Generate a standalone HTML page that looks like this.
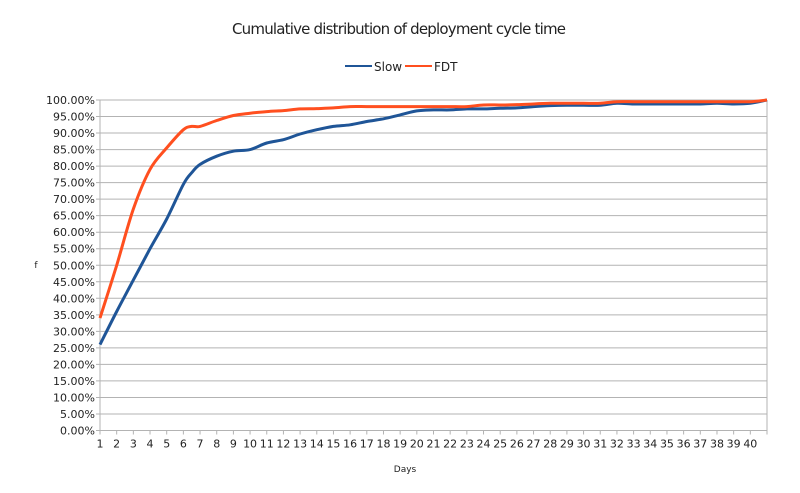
<!DOCTYPE html>
<html><head><meta charset="utf-8"><style>
body{margin:0;background:#fff}
svg{display:block;font-family:"DejaVu Sans","Liberation Sans",sans-serif}
</style></head><body>
<svg id="chart" width="800" height="493" viewBox="0 0 800 493">
<text x="399" y="34" text-anchor="middle" font-size="15" fill="#222" textLength="334">Cumulative distribution of deployment cycle time</text>
<g>
<g><line x1="345" y1="66" x2="372" y2="66" stroke="#1f5597" stroke-width="2"/><text x="374" y="71" font-size="12" fill="#222">Slow</text></g>
<g><line x1="405" y1="66" x2="432" y2="66" stroke="#ff4f1f" stroke-width="2"/><text x="434" y="71" font-size="12" fill="#222">FDT</text></g>
</g>
<g id="grid"></g>
<g id="yticks"></g>
<g id="xticks"></g>
<g id="series"></g>
<text x="36" y="268" font-size="9" fill="#222" text-anchor="middle">f</text>
<text x="405" y="472" font-size="9" fill="#222" text-anchor="middle">Days</text>
</svg>
<script>
const days = [1,2,3,4,5,6,6.5,7,8,9,10,11,12,13,14,15,16,17,18,19,20,21,22,23,24,25,26,27,28,29,30,31,32,33,34,35,36,37,38,39,40,41];
const slowValues = [26,36,45.5,55,64,74.5,78,80.5,83,84.5,85,87,88,89.7,91,92,92.5,93.5,94.3,95.5,96.7,97,97,97.3,97.3,97.5,97.6,98,98.3,98.4,98.4,98.4,99,98.8,98.8,98.8,98.8,98.8,99,98.8,99,100];
const fdtValues = [34,50,67,79,85.5,91,92,92,93.8,95.3,96,96.5,96.8,97.3,97.4,97.6,98,98,98,98,98,98,98,98,98.5,98.5,98.6,98.8,99,99,99,99,99.5,99.5,99.5,99.5,99.5,99.5,99.5,99.5,99.5,100];
const yTickLabels = ["0.00%","5.00%","10.00%","15.00%","20.00%","25.00%","30.00%","35.00%","40.00%","45.00%","50.00%","55.00%","60.00%","65.00%","70.00%","75.00%","80.00%","85.00%","90.00%","95.00%","100.00%"];
const xTickLabels = Array.from({length:40},(_, i)=>String(i+1));

const NS="http://www.w3.org/2000/svg";
const L=100,R=767,T=100,B=430.5;
const xs=d=>L+(d-1)*(R-L)/40;
const ys=v=>B-v*(B-T)/100;
function mk(tag,attrs,parent){const e=document.createElementNS(NS,tag);for(const k in attrs)e.setAttribute(k,attrs[k]);parent.appendChild(e);return e;}
const grid=document.getElementById('grid'),yt=document.getElementById('yticks'),xt=document.getElementById('xticks'),ser=document.getElementById('series');
yTickLabels.forEach((lab,i)=>{
  const y=ys(i*5);
  const g=mk('line',{x1:L-4,x2:R,y1:y,y2:y,stroke:'#b3b3b3','stroke-width':1},grid);
  
  
  const t=mk('text',{x:L-5,y:y+4,'font-size':11,'text-anchor':'end',fill:'#222'},yt);
  t.textContent=lab;
  
  
});
mk('line',{x1:L,x2:L,y1:T,y2:B+4,stroke:'#b3b3b3'},grid);
mk('line',{x1:R,x2:R,y1:T,y2:B+4,stroke:'#b3b3b3'},grid);
for(let d=1;d<=41;d++){mk('line',{x1:xs(d),x2:xs(d),y1:B,y2:B+4,stroke:'#b3b3b3'},grid);}
xTickLabels.forEach((lab,i)=>{
  const t=mk('text',{x:xs(i+1),y:B+17,'font-size':11,'text-anchor':'middle',fill:'#222'},xt);
  t.textContent=lab;
  
  
});
function line(vals,color,name){
  const P=days.map((d,i)=>[xs(d),ys(vals[i])]);
  let d='M'+P[0][0].toFixed(1)+','+P[0][1].toFixed(1);
  for(let i=0;i<P.length-1;i++){
    const p0=P[Math.max(0,i-1)],p1=P[i],p2=P[i+1],p3=P[Math.min(P.length-1,i+2)];
    const c1=[p1[0]+(p2[0]-p0[0])/6,p1[1]+(p2[1]-p0[1])/6];
    const c2=[p2[0]-(p3[0]-p1[0])/6,p2[1]-(p3[1]-p1[1])/6];
    d+=' C'+c1.map(v=>v.toFixed(1)).join(',')+' '+c2.map(v=>v.toFixed(1)).join(',')+' '+p2[0].toFixed(1)+','+p2[1].toFixed(1);
  }
  const p=mk('path',{d:d,fill:'none',stroke:color,'stroke-width':3,'stroke-linejoin':'round'},ser);
  
  
}
line(slowValues,'#1f5597','series-slow');
line(fdtValues,'#ff4f1f','series-fdt');
</script>
</body></html>
